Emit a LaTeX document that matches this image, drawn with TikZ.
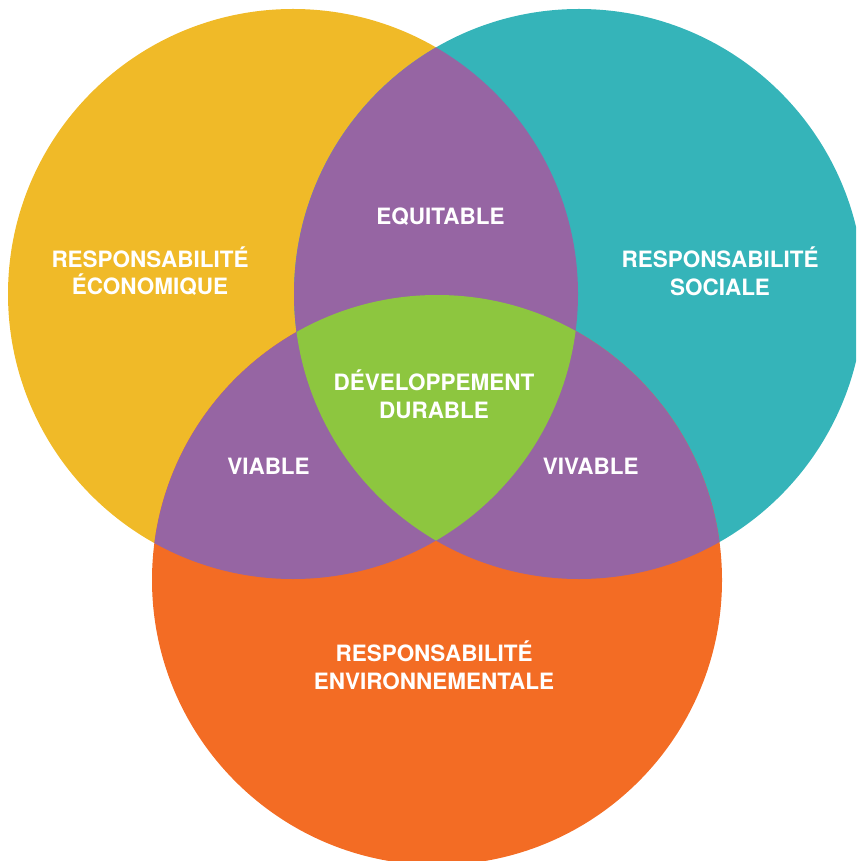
\documentclass[tikz,border=0pt]{standalone}
\usepackage{fontspec}
\setmainfont{TeX Gyre Heros}
\definecolor{jaune}{RGB}{240,186,40}
\definecolor{turquoise}{RGB}{53,180,185}
\definecolor{orange}{RGB}{243,108,36}
\definecolor{violet}{RGB}{150,101,163}
\definecolor{vert}{RGB}{141,198,63}

\begin{document}
\begin{tikzpicture}[x=0.02cm,y=-0.02cm,
etiquette/.style={text=white,font=\bfseries\fontsize{12.8}{15.9}\selectfont,align=center,inner sep=0pt,anchor=base}]
\useasboundingbox (0,0) rectangle (856,861);
\clip (0,0) rectangle (856,861);
\coordinate (eco) at (293,294);
\coordinate (soc) at (579,294);
\coordinate (env) at (437,580);
% les trois cercles
\fill[jaune] (eco) circle (285);
\fill[turquoise] (soc) circle (285);
\fill[orange] (env) circle (285);
% intersections deux a deux
\begin{scope}
\clip (eco) circle (285);
\fill[violet] (soc) circle (285);
\fill[violet] (env) circle (285);
\end{scope}
\begin{scope}
\clip (soc) circle (285);
\fill[violet] (env) circle (285);
\end{scope}
% intersection des trois
\begin{scope}
\clip (eco) circle (285);
\clip (soc) circle (285);
\fill[vert] (env) circle (285);
\end{scope}
% base = ligne du bas
\node[etiquette] (economique) at (150,295) {RESPONSABILITÉ\\ÉCONOMIQUE};
\node[etiquette] (sociale) at (720,295.5) {RESPONSABILITÉ\\SOCIALE};
\node[etiquette] (environnementale) at (434,689.5) {RESPONSABILITÉ\\ENVIRONNEMENTALE};
\node[etiquette] (equitable) at (440.5,224.3) {EQUITABLE};
\node[etiquette] (viable) at (268.5,474.3) {VIABLE};
\node[etiquette] (vivable) at (590.7,474.3) {VIVABLE};
\node[etiquette] (durable) at (434,418.5) {DÉVELOPPEMENT\\DURABLE};
\end{tikzpicture}
\end{document}
